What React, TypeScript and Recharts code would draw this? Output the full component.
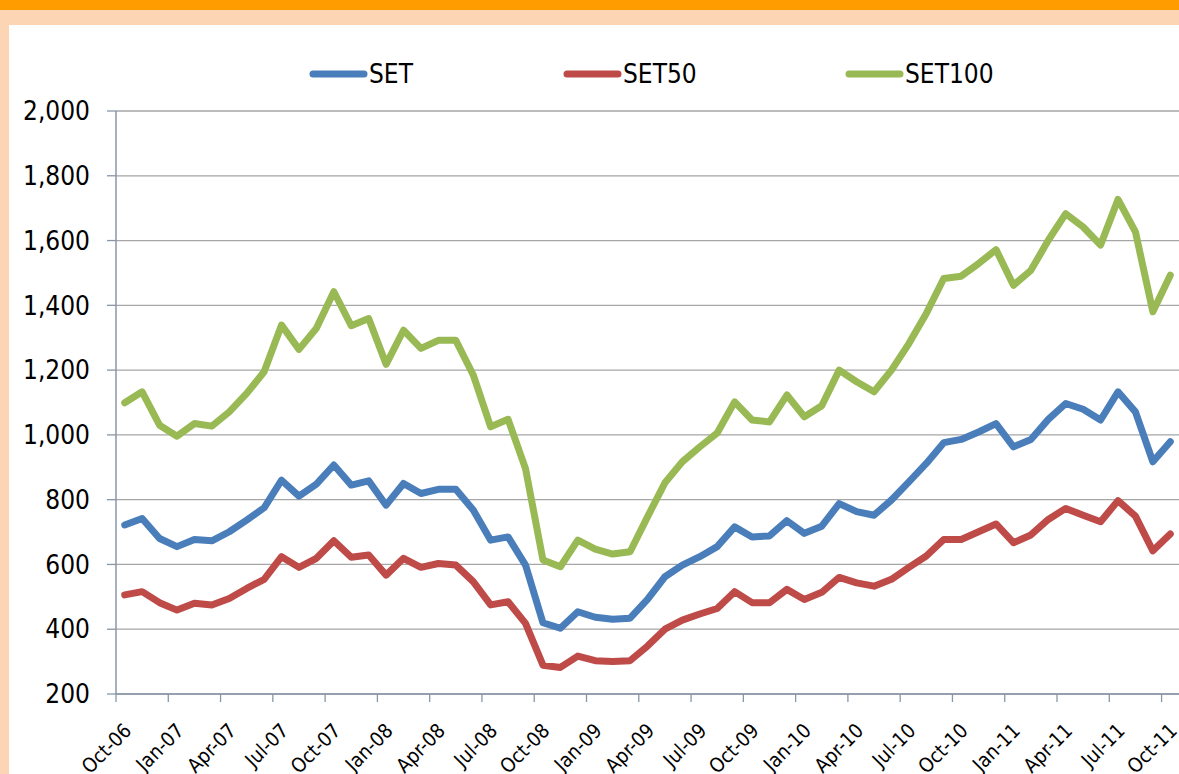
import React from "react"
import { LineChart, Line, XAxis, YAxis, CartesianGrid } from "recharts"

const months = [
  "Oct-06", "Nov-06", "Dec-06",
  "Jan-07", "Feb-07", "Mar-07", "Apr-07", "May-07", "Jun-07", "Jul-07", "Aug-07", "Sep-07", "Oct-07", "Nov-07", "Dec-07",
  "Jan-08", "Feb-08", "Mar-08", "Apr-08", "May-08", "Jun-08", "Jul-08", "Aug-08", "Sep-08", "Oct-08", "Nov-08", "Dec-08",
  "Jan-09", "Feb-09", "Mar-09", "Apr-09", "May-09", "Jun-09", "Jul-09", "Aug-09", "Sep-09", "Oct-09", "Nov-09", "Dec-09",
  "Jan-10", "Feb-10", "Mar-10", "Apr-10", "May-10", "Jun-10", "Jul-10", "Aug-10", "Sep-10", "Oct-10", "Nov-10", "Dec-10",
  "Jan-11", "Feb-11", "Mar-11", "Apr-11", "May-11", "Jun-11", "Jul-11", "Aug-11", "Sep-11", "Oct-11",
]

const setValues = [
  722, 742, 680, 655, 677, 673, 701, 737, 775, 860,
  811, 848, 907, 845, 858, 783, 850, 819, 832, 832,
  768, 675, 685, 598, 420, 403, 454, 437, 431, 434,
  492, 562, 598, 624, 655, 716, 685, 688, 735, 696,
  718, 788, 763, 752, 799, 855, 912, 976, 986, 1009,
  1035, 963, 986, 1048, 1097, 1079, 1046, 1133, 1071, 917,
  979,
]

const set50Values = [
  506, 516, 482, 459, 480, 475, 495, 526, 554, 624,
  591, 619, 673, 622, 629, 567, 619, 591, 603, 598,
  547, 475, 485, 418, 289, 282, 317, 303, 300, 303,
  348, 400, 428, 447, 464, 516, 482, 482, 523, 492,
  514, 560, 543, 533, 554, 591, 626, 677, 677, 701,
  725, 667, 691, 739, 773, 752, 732, 797, 749, 642,
  694,
]

const set100Values = [
  1099, 1133, 1030, 996, 1035, 1027, 1071, 1128, 1195, 1339,
  1264, 1329, 1442, 1337, 1359, 1218, 1323, 1267, 1292, 1292,
  1185, 1025, 1048, 896, 614, 593, 675, 647, 632, 639,
  747, 852, 917, 963, 1006, 1102, 1046, 1040, 1123, 1056,
  1090, 1200, 1164, 1133, 1200, 1282, 1375, 1483, 1490, 1529,
  1572, 1462, 1508, 1601, 1683, 1642, 1586, 1727, 1627, 1380,
  1493,
]

const yTicks = [200, 400, 600, 800, 1000, 1200, 1400, 1600, 1800, 2000]

const series = [
  { key: "SET", color: "#4A7EBB" },
  { key: "SET50", color: "#BE4B48" },
  { key: "SET100", color: "#98B954" },
]

const data = months.map((m, i) => ({
  idx: i,
  month: m,
  SET: setValues[i],
  SET50: set50Values[i],
  SET100: set100Values[i],
}))

// label every third month, starting from the first
const labelIdx = months.map((_, i) => i).filter((i) => i % 3 === 0)

const W = 1179
const H = 774
const AXIS_LEFT = 116
const PLOT_W = W - AXIS_LEFT
const STEP = PLOT_W / months.length
const FONT = "'DejaVu Sans Condensed', 'DejaVu Sans', sans-serif"

function MonthTick(props: any) {
  const { x, y, payload } = props
  const label = months[payload.value]
  const tx = x + 8
  const ty = y + 38
  return (
    <g>
      <line x1={x - STEP / 2} y1={y} x2={x - STEP / 2} y2={y + 8} stroke="#8896A8" strokeWidth={1.3} />
      <text x={tx} y={ty} textAnchor="end" fontSize={20} fontFamily={FONT} fill="#000" transform={`rotate(-45 ${tx} ${ty})`}>
        {label}
      </text>
    </g>
  )
}

function Legend() {
  const items = [
    { key: "SET", x: 309 },
    { key: "SET50", x: 563 },
    { key: "SET100", x: 845 },
  ]
  return (
    <>
      {items.map((it) => {
        const color = series.find((s) => s.key === it.key)!.color
        return (
          <div key={it.key} style={{ position: "absolute", left: it.x, top: 58, height: 32, display: "flex", alignItems: "center" }}>
            <svg width={60} height={10} style={{ display: "block" }}>
              <line x1={4} y1={5} x2={55} y2={5} stroke={color} strokeWidth={7} strokeLinecap="round" />
            </svg>
            <span style={{ fontFamily: FONT, fontSize: 26, color: "#000", lineHeight: "32px" }}>{it.key}</span>
          </div>
        )
      })}
    </>
  )
}

export default function App() {
  return (
    <div style={{ position: "absolute", left: 0, top: 0, width: W, height: H, overflow: "hidden", background: "#FCD5B5" }}>
      <div style={{ position: "absolute", left: 0, top: 0, width: W, height: 10, background: "#FF9C00" }} />
      <div style={{ position: "absolute", left: 9, top: 25, width: W - 9, height: H - 25, background: "#fff" }} />
      <div style={{ position: "absolute", left: 0, top: 0 }}>
        <LineChart width={W} height={H} data={data} margin={{ top: 111, right: 0, bottom: 0, left: 0 }}>
          <CartesianGrid horizontal vertical={false} stroke="#A6A6A6" strokeWidth={1.3} />
          <XAxis
            dataKey="idx"
            type="number"
            domain={[-0.5, months.length - 0.5]}
            ticks={labelIdx}
            interval={0}
            height={80}
            tickLine={false}
            tickSize={0}
            tickMargin={0}
            axisLine={{ stroke: "#8896A8", strokeWidth: 1.5 }}
            tick={<MonthTick />}
          />
          <YAxis
            type="number"
            domain={[200, 2000]}
            ticks={yTicks}
            interval={0}
            width={AXIS_LEFT}
            tickSize={9}
            tickMargin={17}
            tickLine={{ stroke: "#8896A8", strokeWidth: 1.3 }}
            axisLine={{ stroke: "#8896A8", strokeWidth: 1.5 }}
            tick={{ fontSize: 26, fontFamily: FONT, fill: "#000" }}
            tickFormatter={(v: number) => v.toLocaleString("en-US")}
          />
          {series.map((s) => (
            <Line
              key={s.key}
              dataKey={s.key}
              stroke={s.color}
              strokeWidth={7}
              dot={false}
              type="linear"
              strokeLinejoin="round"
              strokeLinecap="round"
              isAnimationActive={false}
            />
          ))}
        </LineChart>
      </div>
      <Legend />
    </div>
  )
}
